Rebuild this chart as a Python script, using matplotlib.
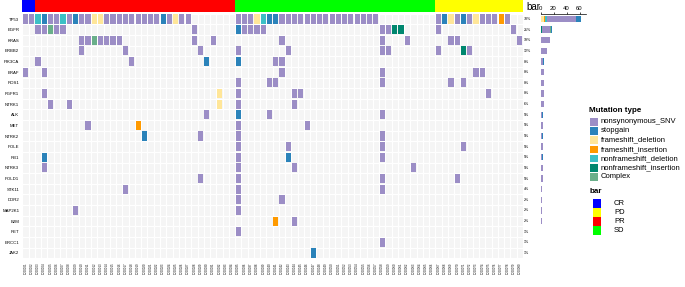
import numpy as np
import matplotlib.pyplot as plt
from matplotlib.patches import Rectangle

plt.rcParams['font.family'] = ['Liberation Sans', 'DejaVu Sans']

genes = ["TP53", "EGFR", "KRAS", "ERBB2", "PIK3CA", "BRAF", "ROS1", "FGFR1",
         "NTRK1", "ALK", "MET", "NTRK2", "POLE", "RB1", "NTRK3", "POLD1",
         "STK11", "DDR2", "MAP2K1", "B2M", "RET", "ERCC1", "JAK2"]

group_names = ["CR", "PR", "SD", "PD"]
group_sizes = [2, 32, 32, 14]
group_colors = ["#0000FF", "#FF0000", "#00FF00", "#FFFF00"]

# sample ids are too small to read in the source picture
samples = ["LC%05d" % i for i in range(1, 81)]

mut_types = ["nonsynonymous_SNV", "stopgain", "frameshift_deletion",
             "frameshift_insertion", "nonframeshift_deletion",
             "nonframeshift_insertion", "Complex"]
mut_codes = ["N", "S", "D", "I", "d", "i", "C"]
mut_colors = ["#9C8EC6", "#2B83BA", "#FFE699", "#FF9A00", "#3CC0C6",
              "#00876F", "#6AAF8A"]
stack_order = ["D", "I", "d", "i", "N", "C", "S"]

# code:sample columns (0-based, ranges inclusive)
hits = {
    "TP53": "N:0-1,4-5,7,9-10,13-21,23,25-26,34-36,41-56,66,69,71,73-75,77 "
            "S:3,8,22,39-40,67,70 D:11-12,24,37,68,72 d:2,6,38 I:76",
    "EGFR": "N:2-3,5-6,27,35-38,57-58,66,78 S:34 C:4 i:59-60",
    "KRAS": "N:9-10,12-15,27,30,41,57,61,68-69,79 C:11",
    "ERBB2": "N:9,16,28,34,42,57-58,66,71 i:70",
    "PIK3CA": "N:2,17,40-41 S:29,34",
    "BRAF": "N:0,3,41,57,72-73",
    "ROS1": "N:34,39-40,57,68,70",
    "FGFR1": "N:3,34,43-44,74 D:31",
    "NTRK1": "N:4,7,34,43 D:31",
    "ALK": "N:29,39,57 S:34",
    "MET": "N:10,34,45 I:18",
    "NTRK2": "N:28,34,57 S:19",
    "POLE": "N:34,42,57,70",
    "RB1": "N:34,57 S:3,42",
    "NTRK3": "N:3,34,43,62",
    "POLD1": "N:28,34,57,69",
    "STK11": "N:16,34,57",
    "DDR2": "N:34,41",
    "MAP2K1": "N:8,34",
    "B2M": "N:43 I:40",
    "RET": "N:34",
    "ERCC1": "N:57",
    "JAK2": "S:46",
}


def parse(s):
    out = {}
    for part in s.split():
        code, idx = part.split(":")
        for r in idx.split(","):
            a, _, b = r.partition("-")
            for k in range(int(a), int(b or a) + 1):
                out[k] = code
    return out


cells = {g: parse(hits[g]) for g in genes}
n = len(samples)
m = len(genes)

W, H = 685, 287
fig = plt.figure(figsize=(W / 100, H / 100), dpi=100)


def box(x0, y0, x1, y1):
    return [x0 / W, 1 - y1 / H, (x1 - x0) / W, (y1 - y0) / H]


ax = fig.add_axes(box(22.3, 13.7, 523, 258.3))
ax_top = fig.add_axes(box(22.3, 0.3, 523, 11.7))
ax_bar = fig.add_axes(box(540.5, 13.7, 586, 258.3))

# grid background
for r in range(m):
    ax.bar(range(n), 1, bottom=r - 0.5, width=1, color="#F5F5F5",
           edgecolor="white", linewidth=0.8)

for r, g in enumerate(genes):
    for code, col in zip(mut_codes, mut_colors):
        xs = [k for k, c in cells[g].items() if c == code]
        if xs:
            ax.bar(xs, 0.86, bottom=r - 0.43, width=0.82, color=col, linewidth=0)
    pct = round(len(cells[g]) / n * 100)
    ax.text(n - 0.3, r, "%d%%" % pct, fontsize=2.6, va="center", ha="left",
            clip_on=False)

ax.set_xlim(-0.5, n - 0.5)
ax.set_ylim(m - 0.5, -0.5)
ax.set_yticks(range(m))
ax.set_yticklabels(genes, fontsize=3.1)
ax.set_xticks(range(n))
ax.set_xticklabels(samples, rotation=90, fontsize=2)
ax.tick_params(axis="y", length=0, pad=2.2)
ax.tick_params(axis="x", length=0, pad=3)
for s in ax.spines.values():
    s.set_visible(False)

# response annotation
resp = []
for g, s in zip(group_names, group_sizes):
    resp += [g] * s
ax_top.bar(range(n), 1, width=1,
           color=[group_colors[group_names.index(g)] for g in resp], linewidth=0)
ax_top.set_xlim(-0.5, n - 0.5)
ax_top.set_ylim(0, 1)
ax_top.axis("off")
fig.text(526 / W, 1 - 6.5 / H, "bar", fontsize=7, va="center", ha="left")

# row barplot
left = np.zeros(m)
for code in stack_order:
    col = mut_colors[mut_codes.index(code)]
    vals = np.array([sum(1 for c in cells[g].values() if c == code) for g in genes])
    ax_bar.barh(range(m), vals, left=left, height=0.6, color=col, linewidth=0)
    left += vals
ax_bar.set_ylim(m - 0.5, -0.5)
ax_bar.set_xlim(0, 70)
ax_bar.xaxis.tick_top()
ax_bar.set_xticks([0, 20, 40, 60])
ax_bar.tick_params(axis="x", labelsize=4.3, length=1.5, width=0.5, pad=0.8)
ax_bar.set_yticks([])
for k, s in ax_bar.spines.items():
    s.set_visible(k == "top")
ax_bar.spines["top"].set_linewidth(0.5)

# legends
lg = fig.add_axes([0, 0, 1, 1])
lg.set_xlim(0, W)
lg.set_ylim(H, 0)
lg.axis("off")
lg.text(589.5, 110.5, "Mutation type", fontsize=5.8, fontweight="bold", va="center")
for i, (name, col) in enumerate(zip(mut_types, mut_colors)):
    y = 121.8 + 9.2 * i
    lg.add_patch(Rectangle((590, y - 3.85), 7.7, 7.7, color=col, lw=0))
    lg.text(601, y, name, fontsize=5.5, va="center")

lg.text(589.5, 191.7, "bar", fontsize=5.8, fontweight="bold", va="center")
for i, name in enumerate(sorted(group_names)):
    y = 203.5 + 9 * i
    lg.add_patch(Rectangle((592.7, y - 4.5), 8, 9,
                           color=group_colors[group_names.index(name)], lw=0))
    lg.text(614, y, name, fontsize=5.5, va="center")

fig.savefig("out.png", dpi=100)
